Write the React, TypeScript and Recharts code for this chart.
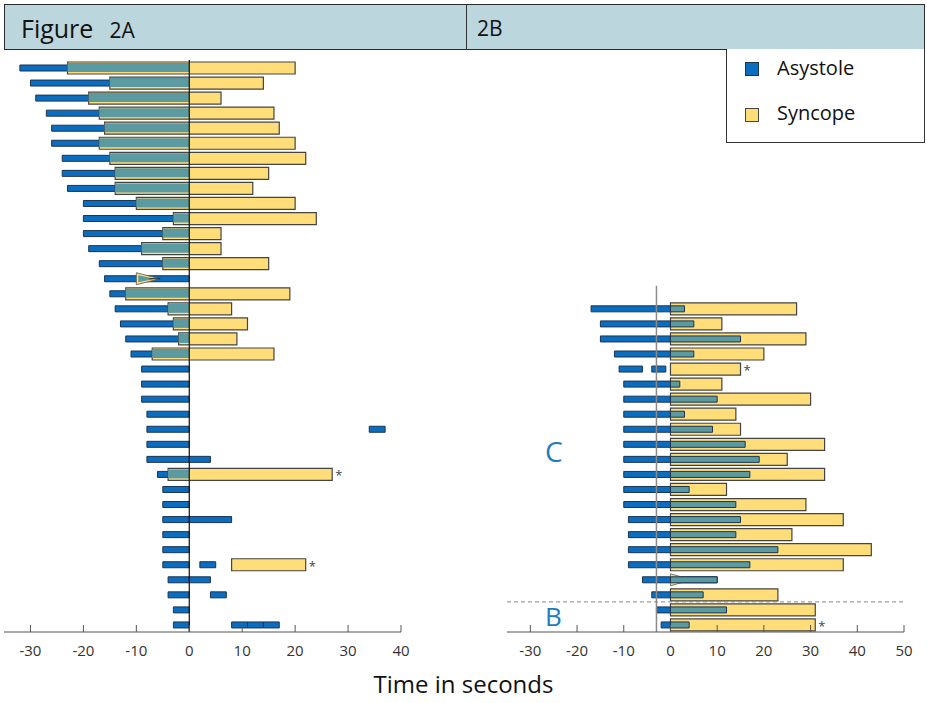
import React from 'react';
import { BarChart, Bar, XAxis, YAxis, ReferenceLine } from 'recharts';

const ROWS = 38;
const rowIds = Array.from({ length: ROWS }, (_, i) => String(i + 1));

// Figure 2A: one row per patient, asystole ends at 0 s
const asystoleStartA = [-32, -30, -29, -27, -26, -26, -24, -24, -23, -20, -20, -20, -19, -17, -16, -15, -14, -13, -12, -11,
  -9, -9, -9, -8, -8, -8, -8, -6, -5, -5, -5, -5, -5, -5, -4, -4, -3, -3];
const syncopeStartA = [-23, -15, -19, -17, -16, -17, -15, -14, -14, -10, -3, -5, -9, -5, null, -12, -4, -3, -2, -7,
  null, null, null, null, null, null, null, -4, null, null, null, null, null, 8, null, null, null, null];
const syncopeEndA = [20, 14, 6, 16, 17, 20, 22, 15, 12, 20, 24, 6, 6, 15, null, 19, 8, 11, 9, 16,
  null, null, null, null, null, null, null, 27, null, null, null, null, null, 22, null, null, null, null];
const extraRowsA = [25, 27, 31, 34, 35, 36, 38, 38, 38];
const extraFromA = [34, 0, 0, 2, 0, 4, 8, 11, 14];
const extraToA = [37, 4, 8, 5, 4, 7, 11, 14, 17];
const starRowsA = [28, 34];
const arrowA = { row: 15, from: -10, to: -5.5 };

// Figure 2B: rows 17-38, syncope starts at 0 s
const firstRowB = 17;
const asystoleStartB = [-17, -15, -15, -12, -11, -10, -10, -10, -10, -10, -10, -10, -10, -10, -9, -9, -9, -9, -6, -4, -3, -2];
const asystoleEndB = [3, 5, 15, 5, -6, 2, 10, 3, 9, 16, 19, 17, 4, 14, 15, 14, 23, 17, 10, 7, 12, 4];
const syncopeEndB = [27, 11, 29, 20, 15, 11, 30, 14, 15, 33, 25, 33, 12, 29, 37, 26, 43, 37, null, 23, 31, 31];
const extraRowsB = [21];
const extraFromB = [-4];
const extraToB = [-1];
const starRowsB = [21, 38];
const arrowB = { row: 35, from: 0, to: 4.5 };

const ticksA = [-30, -20, -10, 0, 10, 20, 30, 40];
const ticksB = [-30, -20, -10, 0, 10, 20, 30, 40, 50];

const BLUE = '#0A6DBF';
const BLUE_EDGE = '#1C3550';
const YELLOW = '#FFDE7A';
const EDGE = '#444';
const TEAL = '#5C9AA1';
const FONT = '"Open Sans", "DejaVu Sans", sans-serif';

type Range = [number, number] | null;

const overlap = (a0: number, a1: number, s0: number, s1: number): Range => {
  const lo = Math.max(a0, s0);
  const hi = Math.min(a1, s1);
  return hi > lo ? [lo, hi] : null;
};

const extrasFor = (n: number, rows: number[], from: number[], to: number[]): Range[] =>
  rows.map((r, k) => (r === n ? [from[k], to[k]] as Range : null)).filter(Boolean);

const dataA = rowIds.map((row, i) => {
  const n = i + 1;
  const a0 = asystoleStartA[i];
  const s0 = syncopeStartA[i];
  const s1 = syncopeEndA[i];
  const ex = extrasFor(n, extraRowsA, extraFromA, extraToA);
  return {
    row,
    blue: [a0, 0],
    sync: s0 == null || s1 == null ? null : [s0, s1],
    teal: s0 == null || s1 == null ? null : overlap(a0, 0, s0, s1),
    arrow: arrowA.row === n ? [arrowA.from, arrowA.to] : null,
    x1: ex[0] ?? null,
    x2: ex[1] ?? null,
    x3: ex[2] ?? null,
    star: starRowsA.includes(n) && s1 != null ? [s1, s1 + 1] : null,
  };
});

const dataB = rowIds.map((row, i) => {
  const n = i + 1;
  const j = n - firstRowB;
  if (j < 0) {
    return { row, blue: null, sync: null, teal: null, arrow: null, x1: null, x2: null, x3: null, star: null };
  }
  const a0 = asystoleStartB[j];
  const a1 = asystoleEndB[j];
  const s1 = syncopeEndB[j];
  const ex = extrasFor(n, extraRowsB, extraFromB, extraToB);
  return {
    row,
    blue: [a0, a1],
    sync: s1 == null ? null : [0, s1],
    teal: overlap(a0, a1, 0, s1 ?? Infinity),
    arrow: arrowB.row === n ? [arrowB.from, arrowB.to] : null,
    x1: ex[0] ?? null,
    x2: null,
    x3: null,
    star: starRowsB.includes(n) && s1 != null ? [s1, s1 + 1] : null,
  };
});

const Star = (p: any) => {
  if (!p || p.width == null || isNaN(p.x)) return null;
  return (
    <text x={p.x + 3} y={p.y + p.height / 2 + 6} fontSize={13} fill="#444" fontFamily={FONT}>*</text>
  );
};

const arrowShape = (inner: string) => (p: any) => {
  if (!p || !p.width || isNaN(p.x)) return null;
  const { x, y, width: w, height: h } = p;
  return (
    <g>
      <polygon points={`${x},${y} ${x},${y + h} ${x + w},${y + h / 2}`} fill={YELLOW} stroke="#555" strokeWidth={0.8} />
      {inner !== 'none' && (
        <polygon points={`${x + 2},${y + 2.5} ${x + 2},${y + h - 2.5} ${x + w - 5},${y + h / 2}`} fill={inner} />
      )}
      <line x1={x + w * 0.55} y1={y + h / 2} x2={x + w} y2={y + h / 2} stroke="#222" strokeWidth={1} />
    </g>
  );
};

const axisIds = ['blue', 'sync', 'teal', 'arrow', 'x1', 'x2', 'x3', 'star'];

const Panel = ({ data, domain, ticks, left, width, margin, tealSize, tealEdge, arrowInner, children }: any) => (
  <div style={{ position: 'absolute', left, top: 0 }}>
    <BarChart width={width} height={703} data={data} layout="vertical" margin={margin}>
      <XAxis
        type="number"
        domain={domain}
        ticks={ticks}
        allowDataOverflow
        height={40}
        tickSize={-7}
        tickMargin={20}
        axisLine={{ stroke: '#555' }}
        tickLine={{ stroke: '#555' }}
        tick={{ fill: '#333', fontSize: 15, fontFamily: FONT }}
      />
      {axisIds.map((id) => (
        <YAxis key={id} yAxisId={id} type="category" dataKey="row" hide />
      ))}
      <Bar yAxisId="blue" dataKey="blue" barSize={6} fill={BLUE} stroke={BLUE_EDGE} strokeWidth={1} isAnimationActive={false} />
      <Bar yAxisId="sync" dataKey="sync" barSize={12} fill={YELLOW} stroke={EDGE} strokeWidth={1.2} isAnimationActive={false} />
      <Bar yAxisId="arrow" dataKey="arrow" barSize={12} shape={arrowShape(arrowInner)} isAnimationActive={false} />
      <Bar yAxisId="teal" dataKey="teal" barSize={tealSize} fill={TEAL} stroke={tealEdge} strokeWidth={1} isAnimationActive={false} />
      <Bar yAxisId="x1" dataKey="x1" barSize={6} fill={BLUE} stroke={BLUE_EDGE} strokeWidth={1} isAnimationActive={false} />
      <Bar yAxisId="x2" dataKey="x2" barSize={6} fill={BLUE} stroke={BLUE_EDGE} strokeWidth={1} isAnimationActive={false} />
      <Bar yAxisId="x3" dataKey="x3" barSize={6} fill={BLUE} stroke={BLUE_EDGE} strokeWidth={1} isAnimationActive={false} />
      <Bar yAxisId="star" dataKey="star" barSize={12} shape={Star} isAnimationActive={false} />
      {children}
    </BarChart>
  </div>
);

export default function App() {
  return (
    <div style={{ position: 'absolute', left: 0, top: 0, width: 927, height: 703, background: '#fff', fontFamily: FONT }}>
      {/* header band */}
      <div style={{ position: 'absolute', left: 4, top: 4, width: 921, height: 46, background: '#BCD6DE', border: '1.5px solid #2b2b2b', boxSizing: 'border-box' }} />
      <div style={{ position: 'absolute', left: 466, top: 4, width: 1, height: 46, background: '#333' }} />
      <div style={{ position: 'absolute', left: 21, top: 11, color: '#111', whiteSpace: 'nowrap' }}>
        <span style={{ fontSize: 25 }}>Figure</span>
        <span style={{ fontSize: 21, marginLeft: 16 }}>2A</span>
      </div>
      <div style={{ position: 'absolute', left: 477, top: 14, fontSize: 21, color: '#111' }}>2B</div>

      <Panel
        data={dataA}
        domain={[-35, 40]}
        ticks={ticksA}
        left={0}
        width={420}
        margin={{ top: 60, right: 19, bottom: 31, left: 4 }}
        tealSize={9}
        tealEdge="none"
        arrowInner={TEAL}
      >
        <ReferenceLine yAxisId="blue" x={0} stroke="#111" strokeWidth={1.2} />
      </Panel>

      <Panel
        data={dataB}
        domain={[-35, 50]}
        ticks={ticksB}
        left={460}
        width={467}
        margin={{ top: 60, right: 23, bottom: 31, left: 47 }}
        tealSize={6}
        tealEdge={BLUE_EDGE}
        arrowInner="none"
      >
        <ReferenceLine yAxisId="blue" segment={[{ x: -3, y: '15' }, { x: -3, y: '38' }]} position="end" stroke="#8a8a8a" strokeWidth={1.5} />
        <ReferenceLine yAxisId="blue" y="36" position="end" stroke="#888" strokeDasharray="4 3" />
      </Panel>

      {/* legend */}
      <div style={{ position: 'absolute', left: 726, top: 49, width: 199, height: 94, border: '1px solid #333', borderTop: 'none', background: '#fff', boxSizing: 'border-box' }}>
        <div style={{ position: 'absolute', left: 18, top: 13, width: 14, height: 14, background: BLUE, border: `1px solid ${BLUE_EDGE}`, boxSizing: 'border-box' }} />
        <div style={{ position: 'absolute', left: 50, top: 5, fontSize: 20, color: '#111' }}>Asystole</div>
        <div style={{ position: 'absolute', left: 18, top: 59, width: 14, height: 14, background: YELLOW, border: `1px solid ${EDGE}`, boxSizing: 'border-box' }} />
        <div style={{ position: 'absolute', left: 50, top: 50, fontSize: 20, color: '#111' }}>Syncope</div>
      </div>

      <div style={{ position: 'absolute', left: 545, top: 437, fontSize: 28, lineHeight: 1, color: '#1E7CC0' }}>C</div>
      <div style={{ position: 'absolute', left: 545, top: 603, fontSize: 26, lineHeight: 1, color: '#1E7CC0' }}>B</div>

      <div style={{ position: 'absolute', left: 0, width: 927, top: 672, textAlign: 'center', fontSize: 24, lineHeight: 1, color: '#111' }}>
        Time in seconds
      </div>
    </div>
  );
}
